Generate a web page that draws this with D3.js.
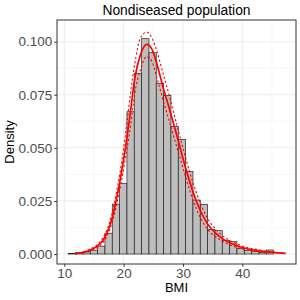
<!DOCTYPE html>
<html>
<head>
<meta charset="utf-8">
<script src="https://cdn.jsdelivr.net/npm/d3@7"></script>
<style>
  body { margin: 0; background: #fff; }
  svg { display: block; font-family: "Liberation Sans", Arial, sans-serif; }
</style>
</head>
<body>
<svg width="300" height="300"></svg>
<script>
// histogram: first break, bin width, density per bin
const binStart = 10.67;
const binWidth = 1.236;
const binDensity = [0.0002, 0.0006, 0.0010, 0.0018, 0.0037, 0.0098, 0.0235, 0.0333,
  0.0670, 0.0851, 0.1014, 0.0948, 0.0804, 0.0747, 0.0600, 0.0540, 0.0388, 0.0254,
  0.0234, 0.0116, 0.0110, 0.0063, 0.0058, 0.0027, 0.0016, 0.0011, 0.0008, 0.0019];

// fitted density and its band
const curveBMI = [11.8, 13.0, 14.3, 15.5, 16.6, 17.7, 18.8, 19.6, 20.3, 21.1, 21.9, 22.8,
  23.9, 24.8, 25.6, 26.7, 27.8, 28.9, 30.0, 31.2, 32.3, 34.0, 36.2, 39.6, 42.9, 47.3];
const fitMid = [0.0002, 0.0007, 0.0018, 0.0036, 0.0068, 0.0135, 0.026, 0.038, 0.050, 0.066,
  0.083, 0.0935, 0.0987, 0.0962, 0.0895, 0.078, 0.0675, 0.0565, 0.045, 0.0335, 0.0245,
  0.0148, 0.0082, 0.0034, 0.0015, 0.0003];
const fitHigh = [0.0003, 0.0009, 0.0022, 0.0043, 0.008, 0.0155, 0.029, 0.042, 0.056, 0.0745,
  0.090, 0.1015, 0.1045, 0.1015, 0.0955, 0.0845, 0.0735, 0.0615, 0.050, 0.038, 0.0285,
  0.0175, 0.0098, 0.0042, 0.0019, 0.0004];
const fitLow = [0.0001, 0.0005, 0.0014, 0.003, 0.0057, 0.0118, 0.023, 0.034, 0.045, 0.059,
  0.076, 0.0865, 0.0930, 0.0905, 0.083, 0.072, 0.0615, 0.051, 0.0405, 0.0295, 0.021,
  0.0122, 0.0068, 0.0027, 0.0011, 0.0002];

const xTicks = [10, 20, 30, 40];
const xMinor = [15, 25, 35, 45];
const yTicks = [0, 0.025, 0.05, 0.075, 0.1];
const yMinor = [0.0125, 0.0375, 0.0625, 0.0875];

const svg = d3.select('svg');
const pLeft = 57, pRight = 296, pTop = 20, pBottom = 264;

const x = d3.scaleLinear().domain([8.77, 49.05]).range([pLeft, pRight]);
const y = d3.scaleLinear().domain([-0.0047, 0.1102]).range([pBottom, pTop]);

// grid
const grid = svg.append('g');
grid.selectAll('.vminor').data(xMinor).enter().append('line')
  .attr('x1', d => x(d)).attr('x2', d => x(d)).attr('y1', pTop).attr('y2', pBottom)
  .attr('stroke', '#f2f2f2').attr('stroke-width', 0.6);
grid.selectAll('.hminor').data(yMinor).enter().append('line')
  .attr('y1', d => y(d)).attr('y2', d => y(d)).attr('x1', pLeft).attr('x2', pRight)
  .attr('stroke', '#f2f2f2').attr('stroke-width', 0.6);
grid.selectAll('.vmajor').data(xTicks).enter().append('line')
  .attr('x1', d => x(d)).attr('x2', d => x(d)).attr('y1', pTop).attr('y2', pBottom)
  .attr('stroke', '#ebebeb').attr('stroke-width', 1);
grid.selectAll('.hmajor').data(yTicks).enter().append('line')
  .attr('y1', d => y(d)).attr('y2', d => y(d)).attr('x1', pLeft).attr('x2', pRight)
  .attr('stroke', '#ebebeb').attr('stroke-width', 1);

// bars
svg.append('g').selectAll('rect').data(binDensity).enter().append('rect')
  .attr('x', (d, i) => x(binStart + i * binWidth))
  .attr('width', x(binStart + binWidth) - x(binStart))
  .attr('y', d => y(d))
  .attr('height', d => y(0) - y(d))
  .attr('fill', '#bebebe')
  .attr('stroke', '#222')
  .attr('stroke-width', 0.7);

// curves
const line = vals => d3.line()
  .x((d, i) => x(curveBMI[i]))
  .y(d => y(d))
  .curve(d3.curveMonotoneX)(vals);

svg.append('path').attr('d', line(fitHigh))
  .attr('fill', 'none').attr('stroke', '#ff0000').attr('stroke-width', 1.1)
  .attr('stroke-dasharray', '2.2,2.2');
svg.append('path').attr('d', line(fitLow))
  .attr('fill', 'none').attr('stroke', '#ff0000').attr('stroke-width', 1.1)
  .attr('stroke-dasharray', '2.2,2.2');
svg.append('path').attr('d', line(fitMid))
  .attr('fill', 'none').attr('stroke', '#ff0000').attr('stroke-width', 1.7);

// panel border
svg.append('rect')
  .attr('x', pLeft).attr('y', pTop).attr('width', pRight - pLeft).attr('height', pBottom - pTop)
  .attr('fill', 'none').attr('stroke', '#333').attr('stroke-width', 1);

// axes
const xAxis = svg.append('g').attr('transform', `translate(0,${pBottom})`)
  .call(d3.axisBottom(x).tickValues(xTicks).tickSize(2.75).tickPadding(1.5).tickFormat(d3.format('d')));
const yAxis = svg.append('g').attr('transform', `translate(${pLeft},0)`)
  .call(d3.axisLeft(y).tickValues(yTicks).tickSize(2.75).tickPadding(2).tickFormat(d3.format('.3f')));
[xAxis, yAxis].forEach(a => {
  a.select('.domain').remove();
  a.selectAll('line').attr('stroke', '#333');
  a.selectAll('text').attr('fill', '#4d4d4d').attr('font-size', 13.5)
    .attr('font-family', '"Liberation Sans", Arial, sans-serif');
});

svg.append('text').attr('x', (pLeft + pRight) / 2).attr('y', 291.5)
  .attr('text-anchor', 'middle').attr('font-size', 13).attr('fill', '#000').text('BMI');
svg.append('text').attr('transform', `translate(14,${(pTop + pBottom) / 2}) rotate(-90)`)
  .attr('text-anchor', 'middle').attr('font-size', 13).attr('fill', '#000').text('Density');
svg.append('text').attr('x', (pLeft + pRight) / 2).attr('y', 15)
  .attr('text-anchor', 'middle').attr('font-size', 13.8).attr('fill', '#000').text('Nondiseased population');
</script>
</body>
</html>
